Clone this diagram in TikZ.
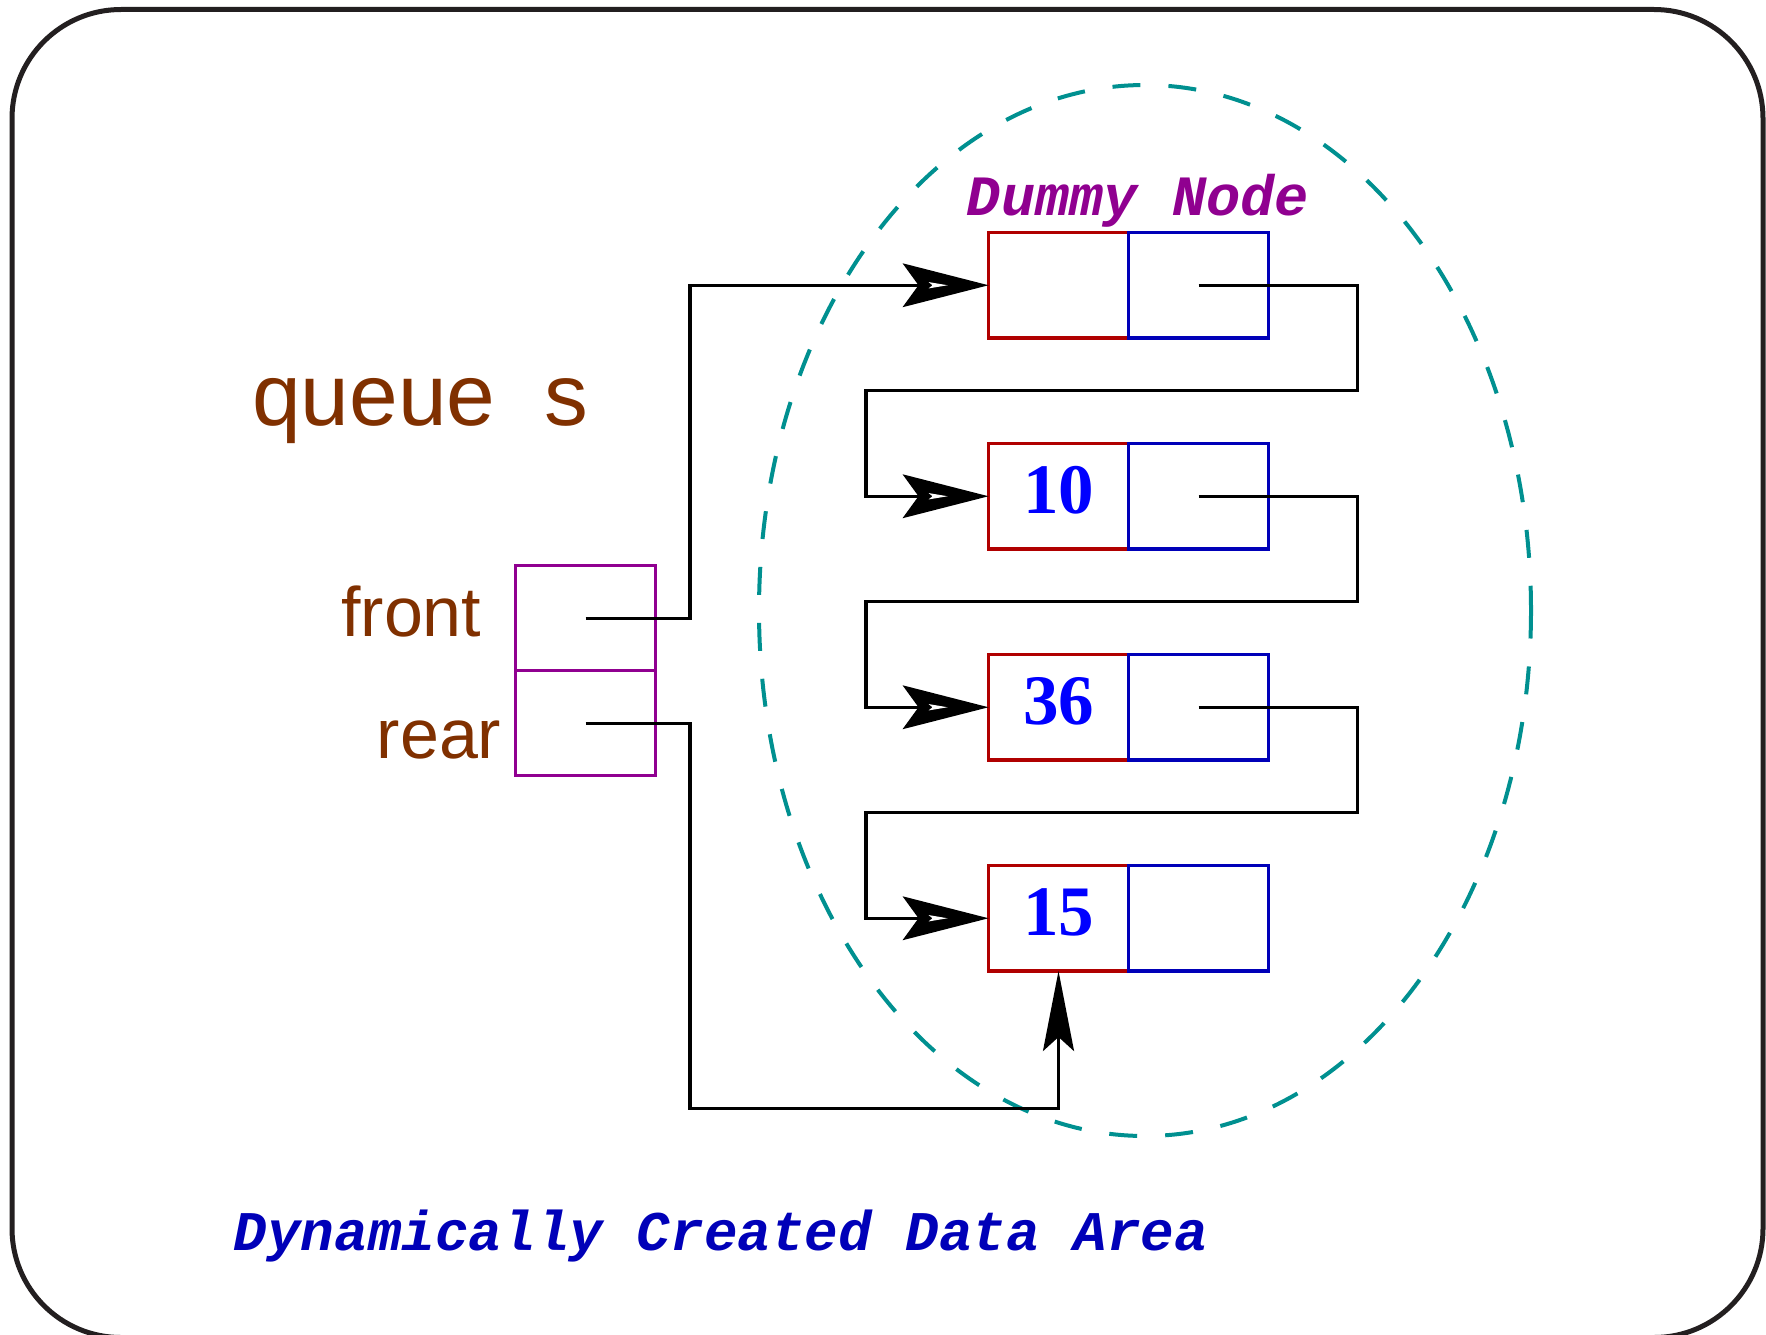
\documentclass[tikz,border=0pt]{standalone}
\usepackage{fontspec}
\usetikzlibrary{arrows.meta,calc}
\newfontfamily\labelsans{Liberation Sans}
\newfontfamily\codemono{Liberation Mono}
\newfontfamily\numserif{Liberation Serif}
\definecolor{qbrown}{HTML}{803000}
\definecolor{qpurple}{HTML}{900090}
\definecolor{qred}{HTML}{B00000}
\definecolor{qblue}{HTML}{0000B8}
\definecolor{qnum}{HTML}{0000FF}
\definecolor{qteal}{HTML}{009090}
\definecolor{qframe}{HTML}{231F20}

% barbed arrow head: black body with a small white slit inside
\pgfdeclarearrow{
  name=BarbSlit,
  setup code={%
    \pgfarrowssettipend{0pt}%
    \pgfarrowssetlineend{-66pt}%
    \pgfarrowssetvisualbackend{-70pt}%
    \pgfarrowssetbackend{-86pt}%
    \pgfarrowshullpoint{0pt}{0pt}%
    \pgfarrowshullpoint{-86pt}{22pt}%
    \pgfarrowshullpoint{-86pt}{-22pt}%
  },
  drawing code={%
    \pgfsetfillcolor{black}%
    \pgfpathmoveto{\pgfpoint{0pt}{0pt}}%
    \pgfpathlineto{\pgfpoint{-86pt}{22pt}}%
    \pgfpathlineto{\pgfpoint{-70pt}{0pt}}%
    \pgfpathlineto{\pgfpoint{-86pt}{-22pt}}%
    \pgfpathclose
    \pgfusepathqfill
    \pgfsetfillcolor{white}%
    \pgfpathmoveto{\pgfpoint{-41pt}{0pt}}%
    \pgfpathlineto{\pgfpoint{-60pt}{3.2pt}}%
    \pgfpathlineto{\pgfpoint{-56pt}{0pt}}%
    \pgfpathlineto{\pgfpoint{-60pt}{-3.2pt}}%
    \pgfpathclose
    \pgfusepathqfill
  }
}

\begin{document}
\begin{tikzpicture}[x=1pt,y=-1pt,
  cellbox/.style={draw, line width=3.4pt, minimum width=140pt, minimum height=105.5pt,
                  inner sep=0pt, outer sep=0pt, anchor=north west},
  valcell/.style={cellbox, qred},
  ptrcell/.style={cellbox, qblue},
  qcell/.style={cellbox, qpurple, minimum height=105pt},
  numtext/.style={text=qnum, inner sep=0pt, anchor=base,
                  font=\numserif\bfseries\fontsize{71}{80}\selectfont},
  sanslbl/.style={text=qbrown, inner sep=0pt},
  monolbl/.style={inner sep=0pt, anchor=base, font=\codemono\bfseries\itshape\fontsize{57}{64}\selectfont},
  link/.style={draw=black, line width=3.4pt},
  solidtip/.tip={Stealth[length=80pt, width=31pt, inset=14pt]},
]
\useasboundingbox (0,0) rectangle (1766,1335);

% rounded outer frame
\draw[qframe, line width=5pt, rounded corners=109pt] (12,9.5) rectangle (1763,1337.5);

% dashed region of dynamically allocated nodes
\draw[qteal, line width=4pt, dash pattern=on 28pt off 28pt]
  (1145,610.5) ellipse [x radius=386, y radius=525.5];

% queue record with its two pointer fields
\node[qcell] (fr) at (515.7,565.7) {};
\node[qcell] (rr) at (fr.south west) {};

\node[sanslbl, anchor=base west, font=\labelsans\fontsize{87.5}{100}\selectfont] (qname) at (252,425) {queue\ \ s};
\node[sanslbl, anchor=base east, font=\labelsans\fontsize{70}{80}\selectfont] (frontlbl) at (481.5,636.7) {front};
\node[sanslbl, anchor=base east, font=\labelsans\fontsize{70}{80}\selectfont] (rearlbl) at (501.5,758.3) {rear};

% linked list: value field (red) and next field (blue)
\node[valcell] (d0) at (988.5,232.5) {};
\node[ptrcell] (p0) at (d0.north east) {};
\node[valcell] (d1) at (988.5,443.5) {};
\node[ptrcell] (p1) at (d1.north east) {};
\node[valcell] (d2) at (988.5,654.5) {};
\node[ptrcell] (p2) at (d2.north east) {};
\node[valcell] (d3) at (988.5,865.5) {};
\node[ptrcell] (p3) at (d3.north east) {};

\node[numtext] (v1) at (1058.5,513.5) {10};
\node[numtext] (v2) at (1058.5,724.5) {36};
\node[numtext] (v3) at (1058.5,935.5) {15};

\node[monolbl, text=qpurple] (dummy) at (1138,215.7) {Dummy Node};
\node[monolbl, text=qblue, font=\codemono\bfseries\itshape\fontsize{56}{64}\selectfont] (area) at (721,1250) {Dynamically Created Data Area};

% bend points of the next-pointers
\coordinate (r0) at (1357.5,390.5);
\coordinate (l0) at (866,390.5);
\coordinate (r1) at (1357.5,601.5);
\coordinate (l1) at (866,601.5);
\coordinate (r2) at (1357.5,812.5);
\coordinate (l2) at (866,812.5);
\coordinate (fbend) at (690,0);
\coordinate (rbend) at (690,1108.3);

\draw[link, -BarbSlit] (p0.center) -| (r0) -- (l0) |- (d1.west);
\draw[link, -BarbSlit] (p1.center) -| (r1) -- (l1) |- (d2.west);
\draw[link, -BarbSlit] (p2.center) -| (r2) -- (l2) |- (d3.west);

% front and rear pointers
\draw[link, -BarbSlit] (fr.center) -| (fbend |- d0.west) -- (d0.west);
\draw[link, -solidtip] (rr.center) -| (rbend) -| (d3.south);
\end{tikzpicture}
\end{document}
